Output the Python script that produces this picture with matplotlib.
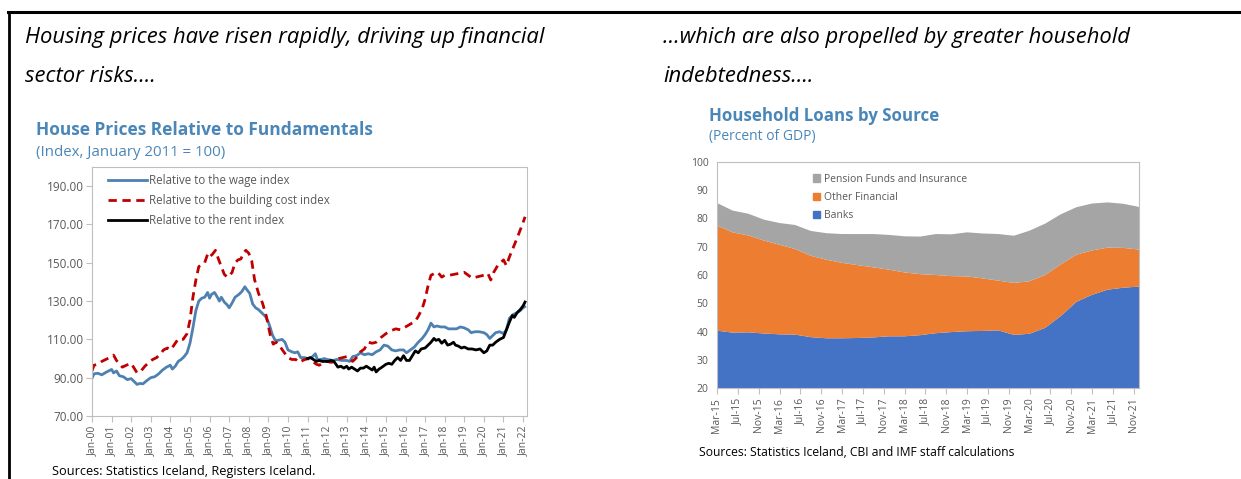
import numpy as np
import matplotlib.pyplot as plt
from matplotlib.lines import Line2D
from matplotlib.patches import Patch

plt.rcParams['font.family'] = ['Open Sans', 'DejaVu Sans']

W, H = 1241, 479

# --- House prices relative to fundamentals (decimal year, index) ---
wage_t = [2000.0, 2000.1, 2000.3, 2000.5, 2000.75, 2001.0, 2001.1, 2001.25, 2001.4, 2001.6, 2001.8,
          2002.0, 2002.15, 2002.3, 2002.45, 2002.6, 2002.8, 2003.0, 2003.2, 2003.4, 2003.6, 2003.8,
          2004.0, 2004.1, 2004.25, 2004.4, 2004.55, 2004.7, 2004.85, 2005.0, 2005.15, 2005.3, 2005.45,
          2005.6, 2005.75, 2005.9, 2006.0, 2006.1, 2006.25, 2006.4, 2006.5, 2006.6, 2006.75, 2006.9,
          2007.0, 2007.15, 2007.3, 2007.5, 2007.65, 2007.8, 2007.9, 2008.05, 2008.2, 2008.35, 2008.5,
          2008.7, 2008.85, 2009.0, 2009.1, 2009.2, 2009.35, 2009.5, 2009.7, 2009.85, 2010.0, 2010.2,
          2010.35, 2010.5, 2010.65, 2010.85, 2011.0, 2011.2, 2011.4, 2011.5, 2011.7, 2011.85, 2012.0,
          2012.3, 2012.5, 2012.75, 2013.0, 2013.15, 2013.3, 2013.5, 2013.7, 2013.9, 2014.1, 2014.3,
          2014.5, 2014.7, 2014.9, 2015.1, 2015.3, 2015.5, 2015.7, 2015.9, 2016.05, 2016.25, 2016.45,
          2016.65, 2016.85, 2017.0, 2017.15, 2017.3, 2017.45, 2017.6, 2017.8, 2018.0, 2018.2, 2018.4,
          2018.6, 2018.8, 2019.0, 2019.2, 2019.35, 2019.55, 2019.75, 2020.0, 2020.15, 2020.3, 2020.45,
          2020.6, 2020.8, 2021.0, 2021.15, 2021.3, 2021.5, 2021.7, 2021.85, 2022.0, 2022.08]
wage_v = [89.7, 92, 92.3, 91.5, 93, 94.3, 92.5, 93.5, 91, 90.5, 89,
          89.5, 88, 86.5, 87, 86.8, 88.5, 90, 90.5, 92, 94, 95.5,
          96.5, 94.5, 96, 98.5, 99.5, 101, 103, 108, 116, 125, 130,
          131.5, 132, 134.5, 131.5, 133.5, 134.5, 132, 130, 132, 129.5, 128,
          126.5, 129, 132, 133.5, 135, 137.5, 136, 134, 128.5, 126.5, 125.5,
          123.5, 122, 119, 116, 112.5, 109.5, 109.5, 110, 108.5, 104.5, 103.5,
          103, 103.5, 100.5, 100.5, 100, 100.5, 102.5, 99.5, 99.5, 100, 99.5,
          99, 99.5, 99, 99, 98.5, 101, 101.5, 103, 102, 102.5, 102,
          103.5, 104.5, 107, 106.5, 104.5, 104, 104.5, 104.5, 103, 104.5, 106,
          108.5, 110.5, 112.5, 115, 118.5, 116.5, 117, 116.5, 116.5, 115.5, 115.5,
          115.5, 116.5, 116, 115, 113.5, 114, 114, 113.5, 112.5, 110.5, 112,
          113.5, 114, 113, 115, 121, 123, 124, 125, 126.5, 127]

build_t = [2000.0, 2000.1, 2000.3, 2000.5, 2000.7, 2000.9, 2001.1, 2001.25, 2001.4, 2001.55, 2001.75,
           2002.0, 2002.15, 2002.3, 2002.5, 2002.7, 2002.9, 2003.1, 2003.3, 2003.5, 2003.65, 2003.85,
           2004.0, 2004.15, 2004.35, 2004.5, 2004.65, 2004.85, 2005.0, 2005.15, 2005.3, 2005.45, 2005.6,
           2005.75, 2005.9, 2006.0, 2006.15, 2006.3, 2006.45, 2006.6, 2006.75, 2006.9, 2007.0, 2007.15,
           2007.3, 2007.45, 2007.6, 2007.75, 2007.85, 2008.0, 2008.15, 2008.3, 2008.5, 2008.7, 2008.9,
           2009.0, 2009.1, 2009.25, 2009.4, 2009.55, 2009.75, 2010.0, 2010.2, 2010.4, 2010.55, 2010.75,
           2011.0, 2011.2, 2011.45, 2011.6, 2011.8, 2012.0, 2012.2, 2012.4, 2012.6, 2012.8, 2013.0,
           2013.15, 2013.3, 2013.5, 2013.7, 2013.9, 2014.1, 2014.3, 2014.5, 2014.75, 2015.0, 2015.25,
           2015.5, 2015.75, 2016.0, 2016.25, 2016.5, 2016.65, 2016.85, 2017.0, 2017.15, 2017.3, 2017.5,
           2017.65, 2017.85, 2018.0, 2018.25, 2018.5, 2018.75, 2019.0, 2019.2, 2019.4, 2019.6, 2019.8,
           2020.0, 2020.2, 2020.35, 2020.5, 2020.7, 2020.85, 2021.0, 2021.15, 2021.3, 2021.5, 2021.7,
           2021.85, 2022.0, 2022.1]
build_v = [93.5, 96.5, 97, 98.5, 99.5, 100.5, 101.8, 99, 97, 95.5, 96.5,
           97.5, 95, 92.5, 93.5, 96, 98, 99.5, 100.5, 102.5, 104.5, 105.5,
           104.5, 106.5, 109.5, 110.5, 110, 113, 120, 132, 141, 148, 149,
           150, 154.5, 153, 154.5, 156.5, 152, 148, 144, 142.5, 143, 145,
           150, 151.5, 152, 155.5, 156.5, 155, 151, 141, 134, 129, 122,
           117, 112, 107.5, 108.5, 107, 104, 100.5, 99.5, 99.5, 98, 99,
           100, 99, 97, 96.5, 98, 98.5, 98, 98.5, 100, 100.5, 101,
           100, 98.5, 100.5, 103.5, 105, 108.5, 108, 108.5, 111, 113, 114.5,
           115.5, 115, 116.5, 118, 119.5, 122, 126, 131, 138, 143.5, 144.5,
           145, 142.5, 143.5, 143.5, 144, 144.5, 145, 143.5, 142, 142.5, 143,
           143.5, 144.5, 141, 145, 148.5, 150, 151.5, 148.5, 153, 158, 163,
           167, 171, 174]

rent_t = [2011.0, 2011.15, 2011.3, 2011.45, 2011.6, 2011.75, 2011.9, 2012.05, 2012.2, 2012.35, 2012.45,
          2012.55, 2012.7, 2012.85, 2013.0, 2013.1, 2013.25, 2013.4, 2013.55, 2013.7, 2013.85, 2014.0,
          2014.15, 2014.3, 2014.4, 2014.5, 2014.65, 2014.8, 2015.0, 2015.15, 2015.3, 2015.45, 2015.6,
          2015.75, 2015.9, 2016.05, 2016.2, 2016.35, 2016.5, 2016.65, 2016.8, 2017.0, 2017.15, 2017.3,
          2017.45, 2017.55, 2017.7, 2017.85, 2018.0, 2018.15, 2018.3, 2018.45, 2018.55, 2018.7, 2018.85,
          2019.0, 2019.2, 2019.4, 2019.6, 2019.8, 2020.0, 2020.15, 2020.3, 2020.45, 2020.6, 2020.8,
          2021.0, 2021.15, 2021.3, 2021.45, 2021.55, 2021.7, 2021.85, 2022.0, 2022.1]
rent_v = [100, 100.5, 99.5, 98.5, 99, 98.5, 98.5, 98.5, 99, 98.5, 97,
          95.5, 96, 95, 96, 94.5, 95.5, 94.5, 93.5, 95, 95, 96,
          95, 94, 95.5, 93, 94.5, 95.5, 97, 97.5, 97, 99, 100.5,
          99, 101.5, 99, 99, 101.5, 104, 103, 105, 105.5, 107, 108.5,
          110.5, 109.5, 110, 108, 109.5, 107, 107.5, 108.5, 107, 106.5, 105.5,
          106, 105, 105, 104.5, 105, 103, 104, 107, 107, 108.5, 110,
          111, 115, 119, 122.5, 121.5, 124, 125.5, 127.5, 129.5]

years = list(range(2000, 2023))
year_labels = ['Jan-%02d' % (y % 100) for y in years]

# --- Household loans by source, quarterly, months since Mar-15 ---
loan_month = list(range(0, 82, 3))
banks = [40.3, 39.6, 39.7, 39.3, 39.0, 38.9, 38.0, 37.6, 37.6, 37.7, 37.9, 38.3, 38.3, 38.7,
         39.4, 39.8, 40.1, 40.2, 40.4, 38.8, 39.2, 41.3, 45.5, 50.5, 53.0, 54.8, 55.5, 55.9]
other_fin = [37.2, 35.5, 34.3, 32.9, 31.7, 30.3, 28.8, 27.8, 26.7, 25.8, 24.8, 23.6, 22.6, 21.6,
             20.6, 19.8, 19.4, 18.6, 17.6, 18.4, 18.6, 18.7, 18.3, 16.7, 15.7, 14.9, 14.1, 13.1]
pension = [8.0, 7.7, 7.7, 7.4, 7.7, 8.5, 8.8, 9.4, 10.2, 11.0, 11.8, 12.3, 12.8, 13.3,
           14.5, 14.8, 15.6, 15.9, 16.5, 16.7, 17.9, 18.2, 17.7, 16.8, 16.6, 16.0, 15.6, 15.1]
loan_ticks = list(range(0, 81, 4))
month_names = ['Mar', 'Jul', 'Nov']
loan_labels = ['%s-%02d' % (month_names[i % 3], 15 + (i * 4 + 2) // 12) for i in range(len(loan_ticks))]

TITLE = '#4a86b8'
GREY_TXT = '#595959'
SPINE = '#bfbfbf'


def fx(px):
    return px / W


def fy(py):
    return 1 - py / H


fig = plt.figure(figsize=(W / 100, H / 100), dpi=100)

# frame lines along the top and left
fig.add_artist(Line2D([fx(8), 1], [fy(12), fy(12)], color='black', lw=2.2))
fig.add_artist(Line2D([fx(9), fx(9)], [fy(12), 0], color='black', lw=2.0))

head = dict(style='italic', fontsize=15.8, va='center')
fig.text(fx(25), fy(37), 'Housing prices have risen rapidly, driving up financial', **head)
fig.text(fx(25), fy(77), 'sector risks….', **head)
fig.text(fx(663), fy(37), '…which are also propelled by greater household', **head)
fig.text(fx(663), fy(77), 'indebtedness….', **head)

fig.text(fx(36), fy(130), 'House Prices Relative to Fundamentals', color=TITLE,
         fontsize=12.5, fontweight='bold', va='center')
fig.text(fx(36), fy(153), '(Index, January 2011 = 100)', color=TITLE, fontsize=10.8, va='center')
fig.text(fx(709), fy(116), 'Household Loans by Source', color=TITLE,
         fontsize=12.2, fontweight='bold', va='center')
fig.text(fx(709), fy(137), '(Percent of GDP)', color=TITLE, fontsize=10, va='center')

fig.text(fx(52), fy(471), 'Sources: Statistics Iceland, Registers Iceland.', fontsize=9.2, va='center')
fig.text(fx(699), fy(452), 'Sources: Statistics Iceland, CBI and IMF staff calculations',
         fontsize=8.7, va='center')

# left panel: index lines
ax1 = fig.add_axes([fx(92), fy(416), fx(527) - fx(92), fy(167) - fy(416)])
ax1.plot(wage_t, wage_v, color='#4e81b0', lw=2.0, label='Relative to the wage index')
ax1.plot(build_t, build_v, color='#c00000', lw=2.0, ls=(0, (3, 2)),
         label='Relative to the building cost index')
ax1.plot(rent_t, rent_v, color='black', lw=2.0, label='Relative to the rent index')
ax1.set_xlim(2000, 2022.2)
ax1.set_ylim(70, 200)
ax1.set_yticks(range(70, 200, 20))
ax1.set_yticklabels(['%.2f' % v for v in range(70, 200, 20)])
ax1.set_xticks(years)
ax1.set_xticklabels(year_labels, rotation=90)
ax1.tick_params(axis='x', direction='out', length=4, color=SPINE, labelsize=7.5,
                labelcolor=GREY_TXT, pad=3)
ax1.tick_params(axis='y', direction='out', length=4, color=SPINE, labelsize=8.5,
                labelcolor=GREY_TXT, pad=2)
for s in ax1.spines.values():
    s.set_color(SPINE)
leg1 = ax1.legend(loc='upper left', bbox_to_anchor=(0.02, 1.0), frameon=False, fontsize=8.3,
                  handlelength=3.4, handletextpad=0.15, labelspacing=0.6, borderaxespad=0.25)
for t in leg1.get_texts():
    t.set_color(GREY_TXT)

# right panel: stacked areas
ax2 = fig.add_axes([fx(717), fy(388), fx(1139) - fx(717), fy(162) - fy(388)])
ax2.stackplot(loan_month, banks, other_fin, pension,
              colors=['#4472c4', '#ed7d31', '#a5a5a5'], lw=0)
ax2.set_xlim(0, 81)
ax2.set_ylim(20, 100)
ax2.set_yticks(range(20, 101, 10))
ax2.set_xticks(loan_ticks)
ax2.set_xticklabels(loan_labels, rotation=90)
ax2.tick_params(axis='x', direction='out', length=4, color=SPINE, labelsize=7.5,
                labelcolor=GREY_TXT, pad=3)
ax2.tick_params(axis='y', length=0, labelsize=7.5, labelcolor=GREY_TXT, pad=6)
for s in ax2.spines.values():
    s.set_color(SPINE)
handles = [Patch(color='#a5a5a5', label='Pension Funds and Insurance'),
           Patch(color='#ed7d31', label='Other Financial'),
           Patch(color='#4472c4', label='Banks')]
leg2 = ax2.legend(handles=handles, loc='upper left', bbox_to_anchor=(0.205, 0.99), frameon=False,
                  fontsize=7.5, handlelength=0.7, handleheight=0.7, handletextpad=0.4,
                  labelspacing=0.7)
for t in leg2.get_texts():
    t.set_color(GREY_TXT)

fig.savefig('out.png', dpi=100)
